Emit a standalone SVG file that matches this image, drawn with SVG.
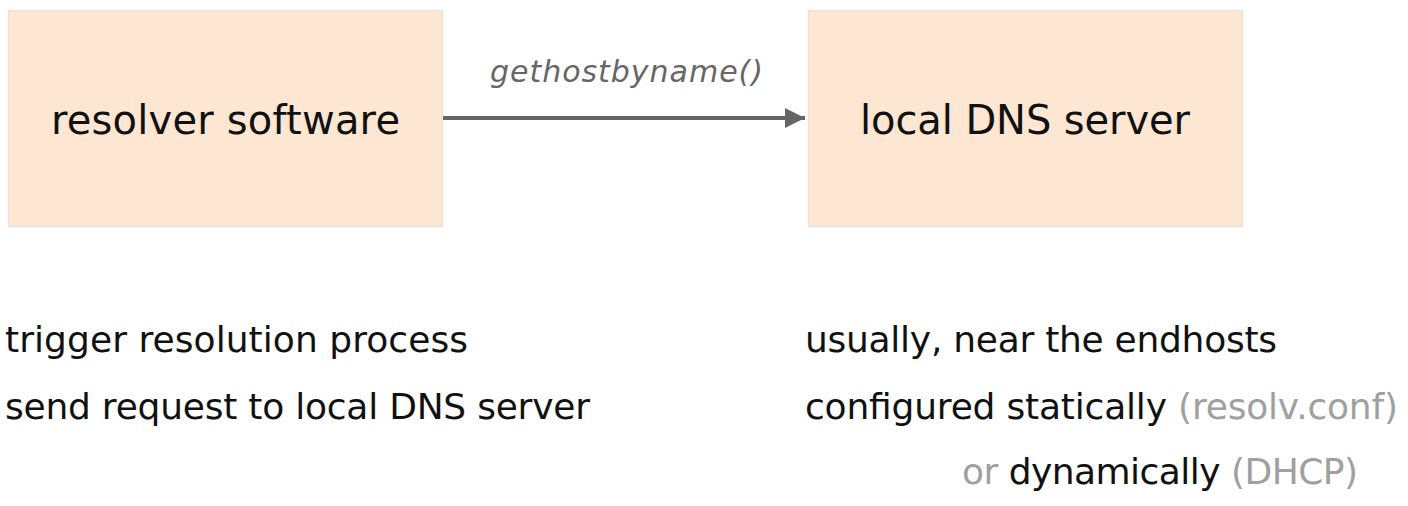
<svg xmlns="http://www.w3.org/2000/svg" width="1408" height="506" viewBox="0 0 1408 506">
<style>
.box{fill:#fde6d2;stroke:#ebe3dc;stroke-width:1.5}
.lbl{font-family:"DejaVu Sans",sans-serif;font-size:40px;fill:#111}
.txt{font-family:"DejaVu Sans",sans-serif;font-size:36px;fill:#111}
.g{fill:#a0a0a0}
.edge{font-family:"DejaVu Sans",sans-serif;font-size:30px;font-style:italic;fill:#666}
</style>
<defs>
<marker id="arr" viewBox="0 0 10 10" refX="10" refY="5" markerWidth="5" markerHeight="5.4" orient="auto" markerUnits="strokeWidth">
<path d="M0,0 L10,5 L0,10 z" fill="#666"/>
</marker>
</defs>
<rect width="1408" height="506" fill="#fff"/>
<g id="resolver">
<rect class="box" x="8.5" y="10.5" width="434" height="216"/>
<text class="lbl" x="51" y="134" textLength="349">resolver software</text>
</g>
<g id="localdns">
<rect class="box" x="808.5" y="10.5" width="434" height="216"/>
<text class="lbl" x="860" y="134" textLength="330">local DNS server</text>
</g>
<g id="connectors">
<line x1="443" y1="118" x2="805" y2="118" stroke="#666" stroke-width="4" marker-end="url(#arr)"/>
<text class="edge" x="490" y="82" textLength="273">gethostbyname()</text>
</g>
<g id="notes">
<text class="txt" x="5" y="352" textLength="463">trigger resolution process</text>
<text class="txt" x="5" y="419" textLength="585">send request to local DNS server</text>
<text class="txt" x="805" y="352" textLength="472">usually, near the endhosts</text>
<text class="txt" x="805" y="419" textLength="593">configured statically <tspan class="g">(resolv.conf)</tspan></text>
<text class="txt" x="962" y="484" textLength="396"><tspan class="g">or</tspan> dynamically <tspan class="g">(DHCP)</tspan></text>
</g>
</svg>
